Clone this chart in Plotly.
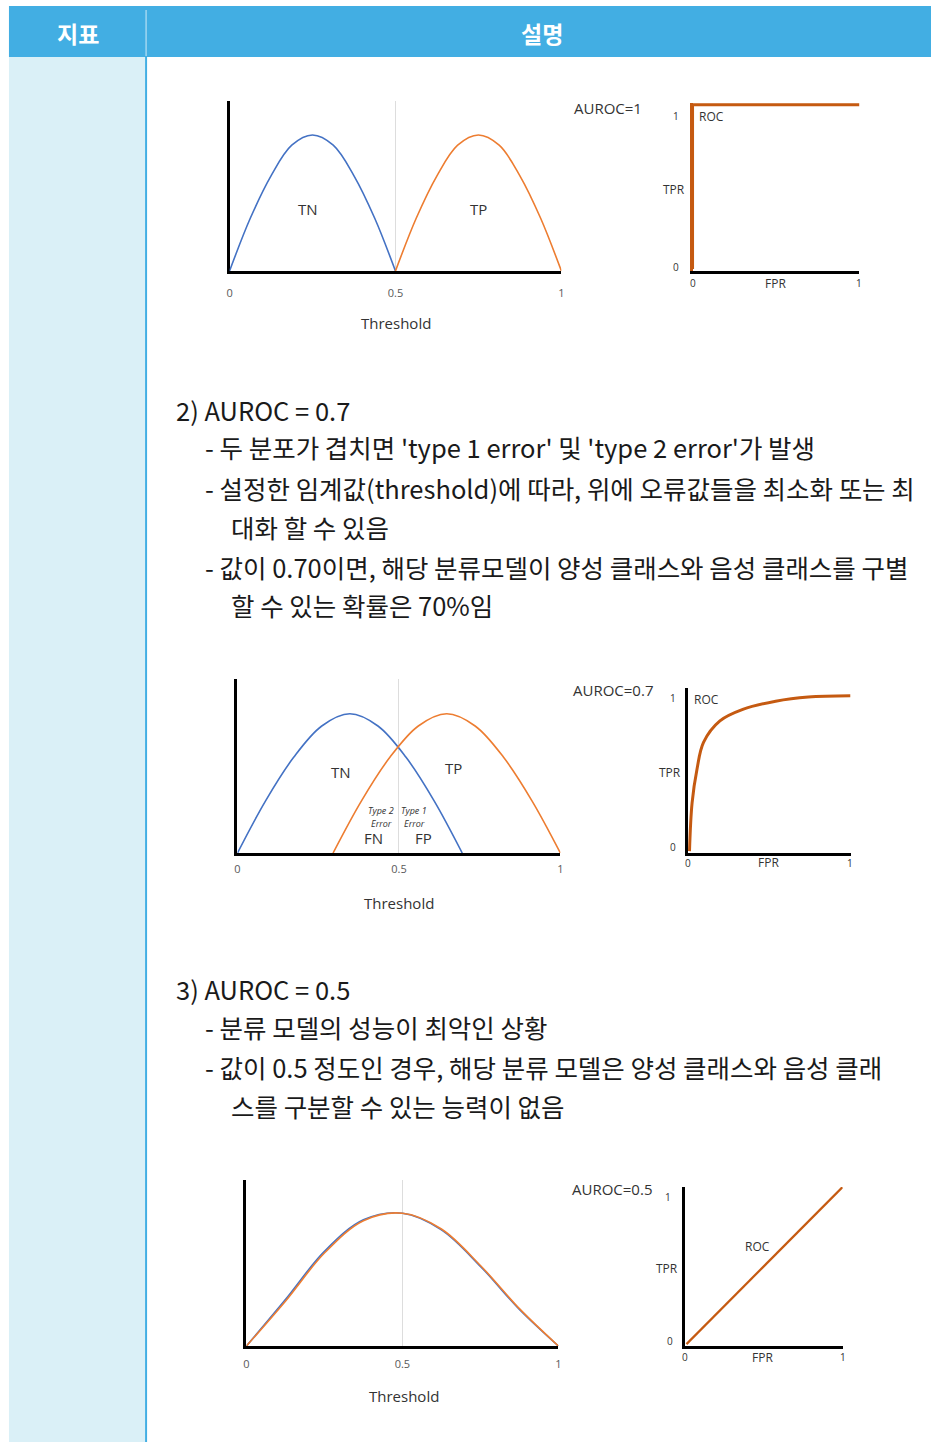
import plotly.graph_objects as go

W, H = 934, 1442

# ---------------- data ----------------
thr_tickvals = [0, 0.5, 1]
thr_ticktext = ["0", "0.5", "1"]

# Panel 1: AUROC = 1 (separated distributions)
p1_tn_x = [0, 0.0625, 0.125, 0.1875, 0.25, 0.3125, 0.375, 0.4375, 0.5]
p1_tn_y = [0, 0.31, 0.56, 0.74, 0.80, 0.74, 0.56, 0.31, 0]
p1_tp_x = [0.5, 0.5625, 0.625, 0.6875, 0.75, 0.8125, 0.875, 0.9375, 1.0]
p1_tp_y = [0, 0.31, 0.56, 0.74, 0.80, 0.74, 0.56, 0.31, 0]
roc1_x = [0, 0, 1]
roc1_y = [0, 1, 1]

# Panel 2: AUROC = 0.7 (overlapping distributions)
p2_tn_x = [0, 0.087, 0.174, 0.261, 0.348, 0.435, 0.522, 0.609, 0.696]
p2_tn_y = [0, 0.30, 0.55, 0.73, 0.80, 0.73, 0.55, 0.30, 0]
p2_tp_x = [0.296, 0.384, 0.472, 0.56, 0.648, 0.736, 0.824, 0.912, 1.0]
p2_tp_y = [0, 0.30, 0.55, 0.73, 0.80, 0.73, 0.55, 0.30, 0]
roc2_x = [0, 0.016, 0.047, 0.087, 0.189, 0.331, 0.535, 0.738, 1.0]
roc2_y = [0, 0.31, 0.53, 0.70, 0.838, 0.912, 0.965, 0.992, 1.0]

# Panel 3: AUROC = 0.5 (identical distributions)
p3_x = [0, 0.125, 0.25, 0.375, 0.5, 0.625, 0.75, 0.875, 1.0]
p3_tn_y = [0, 0.28, 0.57, 0.76, 0.80, 0.70, 0.48, 0.22, 0]
p3_tp_y = [0, 0.27, 0.56, 0.755, 0.80, 0.705, 0.485, 0.225, 0]
roc3_x = [0, 1]
roc3_y = [0, 1]

header_labels = ["지표", "설명"]

text_block2 = [
    "2) AUROC = 0.7",
    "- 두 분포가 겹치면 'type 1 error' 및 'type 2 error'가 발생",
    "- 설정한 임계값(threshold)에 따라, 위에 오류값들을 최소화 또는 최",
    "대화 할 수 있음",
    "- 값이 0.70이면, 해당 분류모델이 양성 클래스와 음성 클래스를 구별",
    "할 수 있는 확률은 70%임",
]
text_block3 = [
    "3) AUROC = 0.5",
    "- 분류 모델의 성능이 최악인 상황",
    "- 값이 0.5 정도인 경우, 해당 분류 모델은 양성 클래스와 음성 클래",
    "스를 구분할 수 있는 능력이 없음",
]

# ---------------- helpers ----------------
def fx(p):
    return p / W

def fy(p):
    return 1 - p / H

BLUE = "#4472C4"
ORANGE = "#ED7D31"
ROC_C = "#C55A11"
HEAD = "#42AEE3"
SIDE = "#DAF0F7"
TXT = "#333333"
KFONT = "Noto Sans CJK KR"
CFONT = "Open Sans"

fig = go.Figure()
layout = dict(
    width=W, height=H,
    margin=dict(l=0, r=0, t=0, b=0),
    paper_bgcolor="white", plot_bgcolor="rgba(0,0,0,0)",
    showlegend=False,
)

panels = [
    dict(l=228, r=562, t=101, b=271, kind="dist", xr=[0, 1.0], yr=[0, 1], standoff=10),
    dict(l=694, r=862, t=103, b=271, kind="roc", xr=[0, 1.0], yr=[-0.012, 1.01], ycol=ROC_C),
    dict(l=236, r=561, t=679, b=853, kind="dist", xr=[0, 1.0], yr=[0, 1], standoff=4),
    dict(l=689, r=853, t=688, b=853, kind="roc", xr=[-0.012, 1.0], yr=[-0.012, 1.05]),
    dict(l=245, r=559, t=1180, b=1346, kind="dist", xr=[0, 1.0], yr=[0, 1], standoff=6),
    dict(l=686, r=845, t=1187, b=1346, kind="roc", xr=[-0.012, 1.0], yr=[-0.012, 1.0]),
]

for i, p in enumerate(panels, start=1):
    xa = dict(
        domain=[fx(p["l"]), fx(p["r"])], range=p["xr"], anchor=f"y{i}",
        showline=True, linecolor="black", linewidth=3, zeroline=False,
        fixedrange=True,
    )
    ya = dict(
        domain=[fy(p["b"]), fy(p["t"])], range=p["yr"], anchor=f"x{i}",
        showline=True, linecolor=p.get("ycol", "black"), linewidth=3, zeroline=False,
        showgrid=False, showticklabels=False, ticks="", fixedrange=True,
        layer="below traces",
    )
    if p["kind"] == "dist":
        xa.update(
            tickvals=thr_tickvals, ticktext=thr_ticktext, ticks="",
            showgrid=True, gridcolor="#DDDDDD", gridwidth=1,
            tickfont=dict(family=CFONT, size=11, color="#595959"),
            ticklabelstandoff=p["standoff"],
        )
    else:
        xa.update(showgrid=False, showticklabels=False, ticks="", layer="below traces")
    layout[f"xaxis{i}"] = xa
    layout[f"yaxis{i}"] = ya

def line(x, y, ax, color, width=1.6, shape="spline"):
    fig.add_trace(go.Scatter(
        x=x, y=y, mode="lines", xaxis=f"x{ax}", yaxis=f"y{ax}",
        line=dict(color=color, width=width, shape=shape),
        hoverinfo="skip",
    ))

line(p1_tn_x, p1_tn_y, 1, BLUE)
line(p1_tp_x, p1_tp_y, 1, ORANGE)
line(roc1_x, roc1_y, 2, ROC_C, 3, "linear")
line(p2_tn_x, p2_tn_y, 3, BLUE)
line(p2_tp_x, p2_tp_y, 3, ORANGE)
line(roc2_x, roc2_y, 4, ROC_C, 3, "spline")
line(p3_x, p3_tn_y, 5, BLUE)
line(p3_x, p3_tp_y, 5, ORANGE)
line(roc3_x, roc3_y, 6, ROC_C, 2.2, "linear")

# ---------------- background table shapes ----------------
shapes = [
    dict(type="rect", xref="paper", yref="paper", x0=fx(6), x1=fx(934), y0=fy(57), y1=fy(6),
         fillcolor=HEAD, line=dict(width=0), layer="below"),
    dict(type="rect", xref="paper", yref="paper", x0=fx(6), x1=fx(143), y0=fy(1442), y1=fy(57),
         fillcolor=SIDE, line=dict(width=0), layer="below"),
    dict(type="line", xref="paper", yref="paper", x0=fx(144), x1=fx(144), y0=fy(1442), y1=fy(57),
         line=dict(color=HEAD, width=2), layer="below"),
    dict(type="line", xref="paper", yref="paper", x0=fx(144), x1=fx(144), y0=fy(56), y1=fy(10),
         line=dict(color="#CFEAF7", width=1), layer="below"),
]
layout["shapes"] = shapes

# ---------------- annotations ----------------
anns = []

def ann(text, x, y, size, color=TXT, family=CFONT, xanchor="center", bold=False, italic=False):
    t = text
    if bold:
        t = f"<b>{t}</b>"
    if italic:
        t = f"<i>{t}</i>"
    anns.append(dict(
        text=t, x=fx(x), y=fy(y), xref="paper", yref="paper",
        xanchor=xanchor, yanchor="middle", showarrow=False,
        font=dict(size=size, color=color, family=family),
    ))

ann(header_labels[0], 75, 33, 23, "white", KFONT, bold=True)
ann(header_labels[1], 542, 33, 23, "white", KFONT, bold=True)

BODY = 25.5
ys2 = [409, 447, 487, 526, 566, 604]
xs2 = [172, 201, 201, 227, 201, 227]
for t, x, y in zip(text_block2, xs2, ys2):
    ann(t, x, y, BODY, "#1a1a1a", KFONT, xanchor="left")
ys3 = [988, 1026, 1066, 1105]
xs3 = [172, 201, 201, 227]
for t, x, y in zip(text_block3, xs3, ys3):
    ann(t, x, y, BODY, "#1a1a1a", KFONT, xanchor="left")

# panel 1 labels
ann("TN", 307, 209, 15)
ann("TP", 479, 209, 15)
ann("Threshold", 396, 323, 15)
ann("AUROC=1", 573, 108, 15, xanchor="left")
ann("1", 677, 116, 10)
ann("0", 677, 267, 10)
ann("TPR", 675, 190, 12)
ann("ROC", 713, 117, 12)
ann("0", 694, 283, 10)
ann("FPR", 777, 283, 12)
ann("1", 862, 283, 10)

# panel 2 labels
ann("TN", 340, 772, 15)
ann("TP", 453, 768, 15)
ann("Type 2", 380, 810, 9, italic=True)
ann("Error", 381, 823, 9, italic=True)
ann("Type 1", 414, 810, 9, italic=True)
ann("Error", 414, 823, 9, italic=True)
ann("FN", 373, 838, 15)
ann("FP", 423, 838, 15)
ann("Threshold", 399, 903, 15)
ann("AUROC=0.7", 572, 690, 15, xanchor="left")
ann("1", 674, 698, 10)
ann("0", 674, 847, 10)
ann("TPR", 671, 772, 12)
ann("ROC", 708, 699, 12)
ann("0", 689, 863, 10)
ann("FPR", 770, 863, 12)
ann("1", 852, 863, 10)

# panel 3 labels
ann("Threshold", 404, 1396, 15)
ann("AUROC=0.5", 571, 1189, 15, xanchor="left")
ann("1", 669, 1197, 10)
ann("0", 671, 1341, 10)
ann("TPR", 668, 1268, 12)
ann("ROC", 759, 1246, 12)
ann("0", 686, 1357, 10)
ann("FPR", 764, 1357, 12)
ann("1", 845, 1357, 10)

layout["annotations"] = anns
fig.update_layout(**layout)
fig.write_html(
    "out.html",
    config={"displayModeBar": False},
    post_script=(
        "document.body.style.margin='0px';document.body.style.padding='0px';"
        "document.body.style.overflow='hidden';"
        "document.documentElement.style.overflow='hidden';"
    ),
)
